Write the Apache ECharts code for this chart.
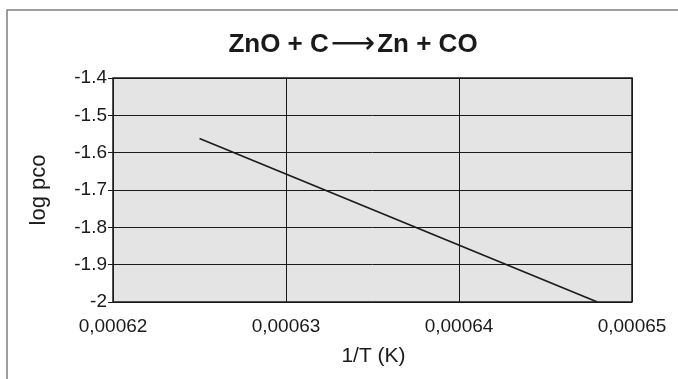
<!DOCTYPE html>
<html>
<head>
<meta charset="utf-8">
<script src="https://cdn.jsdelivr.net/npm/echarts@6/dist/echarts.min.js"></script>
<style>
  html, body { margin: 0; padding: 0; background: #ffffff; }
  #chart { width: 678px; height: 379px; }
</style>
</head>
<body>
<div id="chart"></div>
<script>
// log pco against reciprocal temperature for ZnO + C -> Zn + CO
const invT = [0.000625, 0.000648];
const logPco = [-1.562, -2.0];

const reactants = 'ZnO + C';
const products = 'Zn + CO';
const arrow = '\u27F6';
const xName = '1/T (K)';
const yName = 'log pco';

const fontFam = '"Liberation Sans", Arial, "DejaVu Sans", sans-serif';

const chart = echarts.init(document.getElementById('chart'), null, { renderer: 'canvas' });

chart.setOption({
  animation: false,
  backgroundColor: '#ffffff',
  title: {
    text: '{t|' + reactants + '}{a|' + arrow + '}{t|' + products + '}',
    left: 348,
    textAlign: 'center',
    top: 24,
    textStyle: {
      rich: {
        t: { fontFamily: fontFam, fontWeight: 'bold', fontSize: 26, color: '#1a1a1a' },
        a: { fontFamily: '"DejaVu Sans", sans-serif', fontWeight: 'normal', fontSize: 31, color: '#1a1a1a', padding: [0, 2, 0, 2] }
      }
    }
  },
  graphic: [{
    type: 'rect',
    shape: { x: 7, y: 10, width: 720, height: 420 },
    style: { fill: 'none', stroke: '#7f7f7f', lineWidth: 1.5 },
    silent: true,
    z: 0
  }],
  grid: {
    left: 113, right: 46, top: 78, bottom: 77,
    show: true,
    backgroundColor: '#e4e4e4',
    borderColor: '#1a1a1a',
    borderWidth: 1.5
  },
  xAxis: {
    type: 'value',
    min: 0.00062, max: 0.00065, interval: 0.00001,
    name: xName,
    nameLocation: 'middle',
    nameGap: 44,
    nameTextStyle: { fontFamily: fontFam, fontSize: 21, color: '#1a1a1a', padding: [0, 0, 0, 2] },
    axisLine: { show: false },
    axisTick: { show: false },
    axisLabel: {
      fontFamily: fontFam, fontSize: 19, color: '#1a1a1a', margin: 15,
      formatter: v => v.toFixed(5).replace('.', ',')
    },
    splitLine: { show: true, lineStyle: { color: '#1a1a1a', width: 1 } }
  },
  yAxis: {
    type: 'value',
    min: -2, max: -1.4, interval: 0.1,
    name: yName,
    nameLocation: 'middle',
    nameGap: 63,
    nameRotate: 90,
    nameTextStyle: { fontFamily: fontFam, fontSize: 22, color: '#1a1a1a' },
    axisLine: { show: false },
    axisTick: { show: true, length: 5, lineStyle: { color: '#1a1a1a' } },
    axisLabel: {
      fontFamily: fontFam, fontSize: 19, color: '#1a1a1a', margin: 6,
      formatter: v => String(Math.round(v * 10) / 10)
    },
    splitLine: { show: true, lineStyle: { color: '#1a1a1a', width: 1 } }
  },
  series: [{
    type: 'line',
    data: invT.map((x, i) => [x, logPco[i]]),
    showSymbol: false,
    lineStyle: { color: '#1a1a1a', width: 1.6 },
    z: 3
  }]
});
</script>
</body>
</html>
